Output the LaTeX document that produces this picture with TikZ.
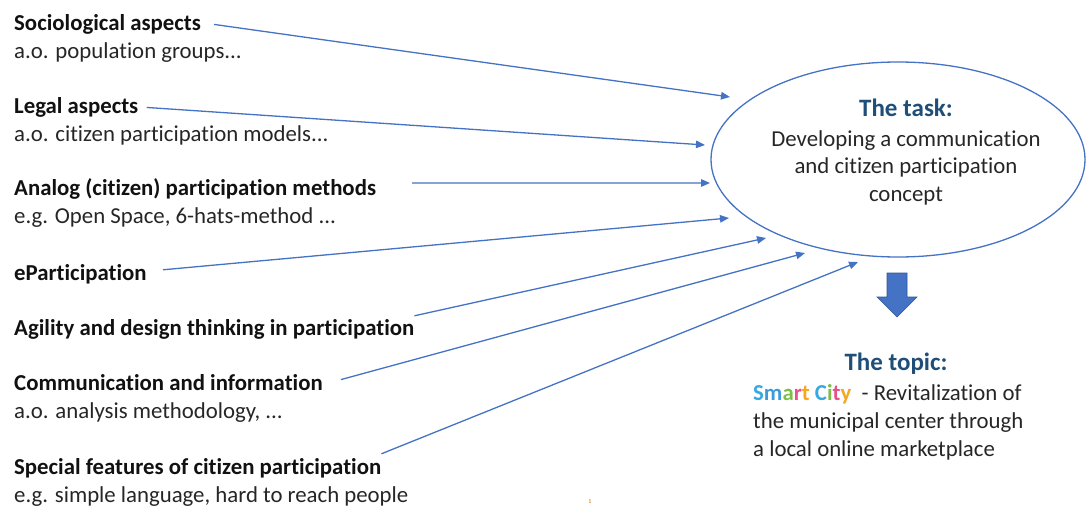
\documentclass[tikz,border=0pt]{standalone}
\usepackage{fontspec}
\setmainfont{Carlito}[Ligatures={NoCommon}]
\usetikzlibrary{arrows.meta,shapes.geometric}
\definecolor{lineblue}{HTML}{4472C4}
\definecolor{arrowedge}{HTML}{2F5597}
\definecolor{titleblue}{HTML}{1F4E79}
\definecolor{txtdark}{HTML}{111111}
\definecolor{txtreg}{HTML}{262626}
\definecolor{scBlue}{HTML}{36A9E1}
\definecolor{scBlueB}{HTML}{3D9BD8}
\definecolor{scGreen}{HTML}{7DBE4A}
\definecolor{scPink}{HTML}{E8508A}
\definecolor{scOrange}{HTML}{F5A623}
\newcommand\smartcitylogo{{\bfseries\color{scBlue}S\color{scBlueB}m\color{scGreen}a\color{scPink}r\color{scOrange}t\ \color{scBlue}C\color{scGreen}i\color{scPink}t\color{scOrange}y}}
\begin{document}
\begin{tikzpicture}[x=1pt,y=-1pt,
  lbl/.style={anchor=base west, inner sep=0pt, font=\fontsize{22.8}{28}\selectfont, text=txtreg},
  head/.style={anchor=base west, inner sep=0pt, font=\fontsize{22.8}{28}\selectfont\bfseries, text=txtdark},
  ctr/.style={anchor=base, inner sep=0pt, font=\fontsize{22.8}{28}\selectfont, text=txtreg},
  titl/.style={anchor=base, inner sep=0pt, font=\fontsize{25}{30}\selectfont\bfseries, text=titleblue},
  conn/.style={draw=lineblue, line width=1.3pt, -{Triangle[length=9pt,width=7.5pt]}},
]
\useasboundingbox (0,0) rectangle (1086,506);

% left column
\node[head] (h1) at (14,30.5) {Sociological aspects};
\node[lbl]  (d1) at (14,58.5) {a.o. population groups...};
\node[head] (h2) at (14,113.5) {Legal aspects};
\node[lbl]  (d2) at (14,141) {a.o. citizen participation models...};
\node[head] (h3) at (14,195.5) {Analog (citizen) participation methods};
\node[lbl]  (d3) at (14,223) {e.g. Open Space, 6-hats-method ...};
\node[head] (h4) at (14,280) {eParticipation};
\node[head] (h5) at (14,335) {Agility and design thinking in participation};
\node[head] (h6) at (14,390.5) {Communication and information};
\node[lbl]  (d6) at (14,418.5) {a.o. analysis methodology, ...};
\node[head] (h7) at (14,474) {Special features of citizen participation};
\node[lbl]  (d7) at (14,502) {e.g. simple language, hard to reach people};

% ellipse
\node[draw=lineblue, line width=1.3pt, ellipse, minimum width=374pt, minimum height=195pt, inner sep=0pt] (task) at (898,159.5) {};
\node[titl] (tk)  at (906,116.7) {The task:};
\node[ctr]  (tk1) at (906,146) {Developing a communication};
\node[ctr]  (tk2) at (906,173.5) {and citizen participation};
\node[ctr]  (tk3) at (906,201) {concept};

% topic
\node[titl] (tp)  at (896,370) {The topic:};
\node[lbl]  (tp1) at (753,400) {\smartcitylogo\ \ - Revitalization of};
\node[lbl]  (tp2) at (753,428) {the municipal center through};
\node[lbl]  (tp3) at (753,456.5) {a local online marketplace};

% block arrow
\filldraw[fill=lineblue, draw=arrowedge, line width=0.6pt]
  (887,273) -- (907,273) -- (907,297) -- (917,297) -- (897,317) -- (877,297) -- (887,297) -- cycle;

% page mark
\node[inner sep=0pt, font=\fontsize{6}{7}\selectfont, text=orange!80!black] (pg) at (590,502) {1};

% arrow tips
\coordinate (t1) at (730,97);
\coordinate (t2) at (705,145);
\coordinate (t3) at (710,183);
\coordinate (t4) at (729,218);
\coordinate (t5) at (766,238);
\coordinate (t6) at (805,253);
\coordinate (t7) at (858,262);

\draw[conn] ([xshift=13pt]h1.east) -- (t1);
\draw[conn] ([xshift=8pt]h2.east) -- (t2);
\draw[conn] ([xshift=36pt,yshift=6pt]h3.east) -- (t3);
\draw[conn] ([xshift=16pt,yshift=4pt]h4.east) -- (t4);
\draw[conn] ([yshift=3pt]h5.north east) -- (t5);
\draw[conn] ([xshift=18pt,yshift=3pt]h6.east) -- (t6);
\draw[conn] ([yshift=4pt]h7.north east) -- (t7);
\end{tikzpicture}
\end{document}
